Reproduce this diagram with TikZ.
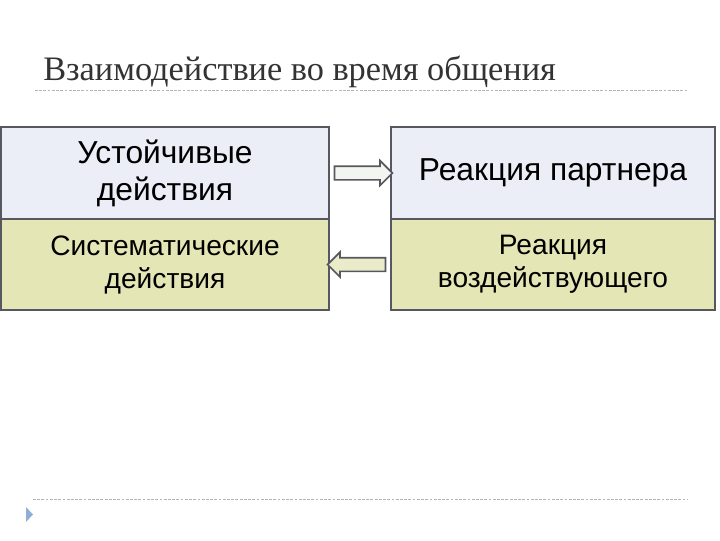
\documentclass[tikz,border=0pt]{standalone}
\usepackage{fontspec}
\setmainfont{Liberation Serif}
\setsansfont{Liberation Sans}
\usepackage{tikz}
\usetikzlibrary{positioning,calc,shapes.arrows}
\definecolor{cellblue}{HTML}{EBEEF6}
\definecolor{cellolive}{HTML}{E5E6B5}
\definecolor{cellborder}{HTML}{575760}
\definecolor{arrowlight}{HTML}{F3F5F1}
\definecolor{arrowolive}{HTML}{E9EBC9}
\definecolor{rulegray}{HTML}{B4B4B4}
\definecolor{bulletblue}{HTML}{8FB0D6}

\begin{document}
\begin{tikzpicture}[
    x=0.025cm, y=-0.025cm,
    cell/.style={draw=cellborder, line width=1.3pt, align=center, inner sep=0pt, outer sep=0pt,
        text=black},
    topcell/.style={cell, fill=cellblue, font=\sffamily\fontsize{22.6}{26.5}\selectfont},
    botcell/.style={cell, fill=cellolive, font=\sffamily\fontsize{20}{23.5}\selectfont},
    blockarrow/.style={single arrow, draw=cellborder, line width=1.2pt, inner sep=0.15cm,
        minimum height=1.45cm, single arrow head extend=0.14cm},
    headrule/.style={rulegray, line width=0.6pt, dash pattern=on 2pt off 1pt}
]
\useasboundingbox (0,0) rectangle (720,540);

% Title and rules
\node[anchor=base west, inner sep=0pt, font=\fontsize{24.4}{28}\selectfont, text=black!80]
    (title) at (43,80) {Взаимодействие во время общения};
\draw[headrule] (35,90) -- (688,90);
\draw[headrule] (33,499) -- (688,499);
\fill[bulletblue] (26,507) -- (33,514.5) -- (26,522) -- cycle;

% Left column
\node[topcell, minimum width=8.2cm, minimum height=2.3cm] (stable) at (165,173)
    {Устойчивые\\действия};
\node[botcell, minimum width=8.2cm, minimum height=2.275cm, below=0pt of stable] (system)
    {Систематические\\действия};

% Right column
\node[topcell, minimum width=8.1cm, minimum height=2.3cm] (partner) at (553,173)
    {Реакция партнера};
\node[botcell, minimum width=8.1cm, minimum height=2.275cm, below=0pt of partner] (agent)
    {Реакция\\воздействующего};

% Arrows between columns
\node[blockarrow, fill=arrowlight] (toright) at ($(stable.east)!0.5!(partner.west)$) {};
\node[blockarrow, fill=arrowolive, shape border rotate=180] (toleft)
    at ($(agent.west)!0.5!(system.east)$) {};
\end{tikzpicture}
\end{document}
